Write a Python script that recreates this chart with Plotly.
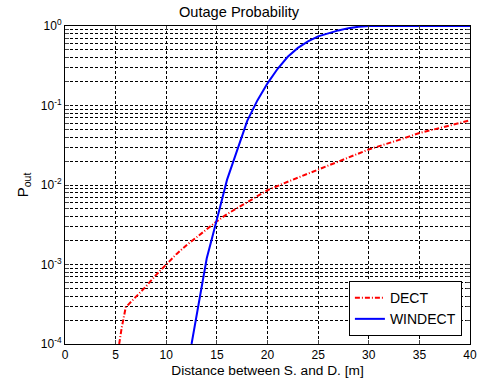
import plotly.graph_objects as go

dect_x = [5.35, 5.6, 6.0, 7, 8, 9, 10, 11, 12, 13, 14, 15, 16, 17, 18, 19, 20, 22, 25, 28, 30, 33, 35, 38, 40]
dect_y = [1e-4, 1.6e-4, 2.9e-4, 3.9e-4, 5.3e-4, 7.4e-4, 1.0e-3, 1.35e-3, 1.75e-3, 2.2e-3, 2.8e-3, 3.5e-3,
          4.3e-3, 5.1e-3, 6.1e-3, 7.3e-3, 8.6e-3, 1.1e-2, 1.55e-2, 2.2e-2, 2.8e-2, 3.7e-2, 4.5e-2, 5.6e-2, 6.5e-2]

windect_x = [12.5, 13, 13.5, 14, 14.5, 15, 15.5, 16, 17, 18, 19, 20, 21, 22, 23, 24, 25, 26, 27, 28, 29, 30, 32, 40]
windect_y = [1e-4, 2.35e-4, 5.6e-4, 1.2e-3, 2.1e-3, 3.6e-3, 6.5e-3, 1.16e-2, 2.7e-2, 6.4e-2, 0.116, 0.19,
             0.29, 0.41, 0.53, 0.64, 0.74, 0.81, 0.88, 0.94, 0.98, 0.997, 1.0, 1.0]

x_ticks = [0, 5, 10, 15, 20, 25, 30, 35, 40]
y_major = [1e-4, 1e-3, 1e-2, 1e-1, 1e0]
y_major_labels = ["10<sup>-4</sup>", "10<sup>-3</sup>", "10<sup>-2</sup>", "10<sup>-1</sup>", "10<sup>0</sup>"]

y_vals, y_text = [], []
for i, m in enumerate(y_major):
    y_vals.append(m)
    y_text.append(y_major_labels[i])
    if m < 1:
        for k in range(2, 10):
            y_vals.append(m * k)
            y_text.append("")

fig = go.Figure()
fig.add_trace(go.Scatter(x=dect_x, y=dect_y, mode="lines", name="DECT",
                         line=dict(color="#ff0000", width=2, dash="5px,2px,1px,2px")))
fig.add_trace(go.Scatter(x=windect_x, y=windect_y, mode="lines", name="WINDECT",
                         line=dict(color="#0000ff", width=2)))

font = dict(family="Liberation Sans, Arial, sans-serif", size=12, color="#000000")

fig.update_layout(
    width=478, height=387,
    margin=dict(l=65, r=8, t=26, b=43, autoexpand=False),
    paper_bgcolor="white", plot_bgcolor="white",
    font=font,
    title=dict(text="Outage Probability", x=0.5, xanchor="center", y=0.969, yanchor="middle",
               font=dict(size=14.6)),
    showlegend=True,
    legend=dict(x=0.98, y=0.025, xanchor="right", yanchor="bottom",
                bordercolor="black", borderwidth=1, bgcolor="white",
                font=dict(size=14), tracegroupgap=0),
)
fig.update_xaxes(range=[0, 40], tickvals=x_ticks, ticks="inside", ticklen=4,
                 showline=True, linecolor="black", linewidth=1, mirror="ticks",
                 showgrid=True, gridcolor="black", griddash="3px,2px", gridwidth=1,
                 zeroline=False, automargin=False,
                 title=dict(text="Distance between S. and D. [m]", standoff=4, font=dict(size=13.7)),
                 tickfont=dict(size=12))
fig.update_yaxes(type="log", range=[-4, 0], tickvals=y_vals, ticktext=y_text,
                 ticks="inside", ticklen=4,
                 showline=True, linecolor="black", linewidth=1, mirror="ticks",
                 showgrid=True, gridcolor="black", griddash="3px,2px", gridwidth=1,
                 zeroline=False, automargin=False,
                 title=dict(text="P<sub>out</sub>", standoff=8, font=dict(size=15)),
                 tickfont=dict(size=12))

fig.write_html("out.html")
